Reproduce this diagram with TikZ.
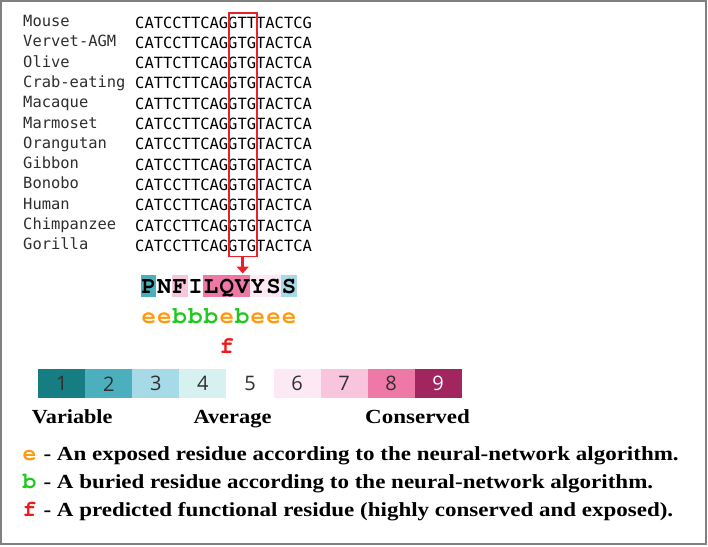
\documentclass[tikz,border=0pt]{standalone}
\usepackage[T1,TU]{fontenc}
\usepackage{fontspec}
\setmainfont{Liberation Serif}
\newfontfamily\seqfont{DejaVu Sans Mono}
\newfontfamily\numfont{Open Sans}
\newcommand\courb{\fontencoding{T1}\fontfamily{pcr}\fontseries{b}\fontshape{n}\selectfont}
\newcommand\cl[2]{\textcolor{#1}{#2}\kern1.2pt}
\usetikzlibrary{arrows.meta}
\definecolor{sA}{HTML}{167E83}
\definecolor{sB}{HTML}{4BAFBE}
\definecolor{sC}{HTML}{A5DAE6}
\definecolor{sD}{HTML}{D7F0F0}
\definecolor{sE}{HTML}{FFFFFF}
\definecolor{sF}{HTML}{FCE9F3}
\definecolor{sG}{HTML}{F9C5DC}
\definecolor{sH}{HTML}{EE79A6}
\definecolor{sI}{HTML}{A1255F}
\definecolor{eorange}{HTML}{FF9A10}
\definecolor{bgreen}{HTML}{20C820}
\definecolor{fred}{HTML}{F01818}
\definecolor{boxred}{HTML}{E8202A}
\definecolor{framegray}{HTML}{808080}
\definecolor{spgray}{HTML}{2E2E2E}
\definecolor{numgray}{HTML}{303030}
\tikzset{
  frame/.style={draw=framegray, line width=1.6pt},
  spec/.style={anchor=base west, inner sep=0pt, text=spgray, font=\seqfont\fontsize{15.45}{18}\selectfont},
  seqs/.style={anchor=base west, inner sep=0pt, text=black, font=\seqfont\fontsize{15.45}{18}\selectfont},
  redbox/.style={draw=boxred, line width=1.8pt, minimum width=28pt, minimum height=243.2pt, inner sep=0pt},
  redarrow/.style={draw=boxred, line width=3.2pt, -{Triangle[width=12pt,length=7pt]}},
  cell/.style={minimum width=15.6pt, minimum height=22pt, inner sep=0pt, draw=none},
  aarow/.style={anchor=base west, inner sep=0pt, font=\courb\fontsize{24}{26}\selectfont},
  scalecell/.style={minimum width=47.04pt, minimum height=29pt, inner sep=0pt, draw=none, font=\numfont\fontsize{20}{22}\selectfont},
  lab/.style={anchor=base west, inner sep=0pt, font=\bfseries\fontsize{20}{24}\selectfont},
  leglet/.style={anchor=base, inner sep=0pt, font=\courb\fontsize{23}{26}\selectfont},
  legtxt/.style={anchor=base west, inner sep=0pt, font=\bfseries\fontsize{20}{24}\selectfont},
}
\begin{document}
\begin{tikzpicture}[x=1pt,y=-1pt]
\useasboundingbox (0,0) rectangle (708,546);
\draw[frame] (1,1) rectangle (706.2,544.2);
% alignment
\foreach \name/\sq [count=\i from 0] in {Mouse/CATCCTTCAGGTTTACTCG,Vervet-AGM/CATCCTTCAGGTGTACTCA,Olive/CATTCTTCAGGTGTACTCA,Crab-eating/CATTCTTCAGGTGTACTCA,Macaque/CATTCTTCAGGTGTACTCA,Marmoset/CATCCTTCAGGTGTACTCA,Orangutan/CATCCTTCAGGTGTACTCA,Gibbon/CATCCTTCAGGTGTACTCA,Bonobo/CATCCTTCAGGTGTACTCA,Human/CATCCTTCAGGTGTACTCA,Chimpanzee/CATCCTTCAGGTGTACTCA,Gorilla/CATCCTTCAGGTGTACTCA}{
  \node[spec] (sp\i) at (23,{26.5+20.3*\i}) {\name};
  \node[seqs] (sq\i) at (135,{28+20.3*\i}) {\sq};
}
\node[redbox] (box) at (242.7,134.9) {};
\coordinate (tip) at (242.7,273.5);
\draw[redarrow] (box.south) -- (tip);
% protein cells
\foreach \col [count=\i from 0] in {sB,sE,sG,sE,sH,sH,sH,sF,sF,sC}{
  \node[cell, fill=\col] (c\i) at ({148.5+15.6*\i},285.7) {};
}
\node[aarow] (prot) at (141.3,293.6) {\cl{black}{P}\cl{black}{N}\cl{black}{F}\cl{black}{I}\cl{black}{L}\cl{black}{Q}\cl{black}{V}\cl{black}{Y}\cl{black}{S}\cl{black}{S}};
\node[aarow] (expo) at (141.3,323.5) {\cl{eorange}{e}\cl{eorange}{e}\cl{bgreen}{b}\cl{bgreen}{b}\cl{bgreen}{b}\cl{eorange}{e}\cl{bgreen}{b}\cl{eorange}{e}\cl{eorange}{e}\cl{eorange}{e}};
\node[aarow] (fsite) at ({141.3+15.6*5},353.3) {\cl{fred}{f}};
% scale
\foreach \col [count=\i from 1] in {sA,sB,sC,sD,sE,sF,sG,sH}{
  \node[scalecell, fill=\col, text=numgray] (s\i) at ({38.3+47.04*(\i-0.5)},383.8) {\i};
}
\node[scalecell, fill=sI, text=white] (s9) at ({38.3+47.04*8.5},383.8) {9};
\node[lab] (lvar) at (31.7,423.3) {\scalebox{1.11}[1]{Variable}};
\node[lab] (lavg) at (193.3,423.3) {\scalebox{1.12}[1]{Average}};
\node[lab] (lcon) at (365,423.3) {\scalebox{1.15}[1]{Conserved}};
% legend
\node[leglet, text=eorange] (le) at (29.5,460.5) {e};
\node[legtxt] (lte) at (43.3,460.5) {\scalebox{1.15}[1]{- An exposed residue according to the neural-network algorithm.}};
\node[leglet, text=bgreen] (lb) at (29.5,488) {b};
\node[legtxt] (ltb) at (43.3,488) {\scalebox{1.15}[1]{- A buried residue according to the neural-network algorithm.}};
\node[leglet, text=fred] (lf) at (29.5,516) {f};
\node[legtxt] (ltf) at (43.3,516) {\scalebox{1.15}[1]{- A predicted functional residue (highly conserved and exposed).}};
\end{tikzpicture}
\end{document}
